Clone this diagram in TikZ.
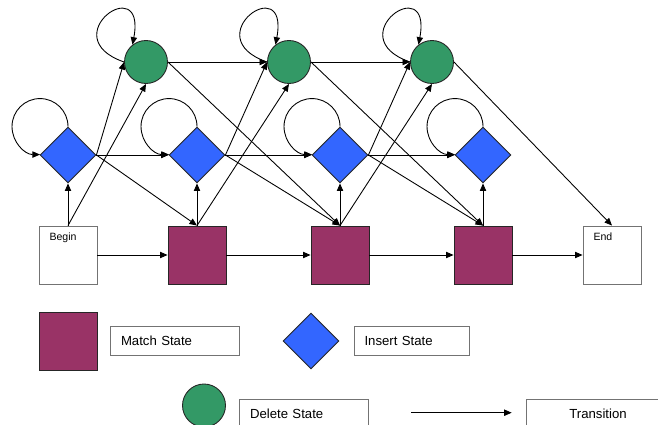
\documentclass[tikz,border=0pt]{standalone}
\usepackage{fontspec}
\setmainfont{Liberation Sans}
\usetikzlibrary{positioning, shapes.geometric, arrows.meta}
\definecolor{matchcol}{RGB}{153,51,102}
\definecolor{inscol}{RGB}{51,102,255}
\definecolor{delcol}{RGB}{51,153,102}
\tikzset{mstate/.style={draw=black!85, fill=matchcol, minimum size=1.16cm, inner sep=0}}
\tikzset{istate/.style={diamond, aspect=1, draw=black!85, fill=inscol, minimum size=1.12cm, inner sep=0}}
\tikzset{dstate/.style={circle, draw=black!85, fill=delcol, minimum size=0.86cm, inner sep=0}}
\tikzset{tbox/.style={draw=black!55, fill=white, minimum size=1.16cm, inner sep=0}}
\tikzset{tlabel/.style={label={[anchor=north west, inner sep=0pt, xshift=0.21cm, yshift=-0.14cm, font=\fontsize{6}{7}\selectfont]north west:#1}}}
\tikzset{legbox/.style={draw=black!55, minimum height=0.58cm, inner xsep=0.21cm, text width=#1, align=left, font=\fontsize{7.5}{9}\selectfont}}
\tikzset{arr/.style={draw, -{Triangle[length=4.3pt, width=3.6pt]}, line width=0.5pt}}

\begin{document}
\begin{tikzpicture}[x=0.02cm, y=0.02cm, line width=0.5pt]
	\useasboundingbox (0,0) rectangle (658,-425);
	\clip (0,0) rectangle (658,-425);
	\node[tbox, tlabel=Begin] (B) at (68,-255) {};
	\node[tbox, tlabel=End] (E) at (612,-255) {};
	\node[istate] (I0) at (68,-155) {};
	\foreach \i/\x in {1/197,2/340,3/483}{
		\node[mstate] (M\i) at (\x,-255) {};
		\node[istate] (I\i) at (\x,-155) {};
		\node[dstate] (D\i) at (\x-51,-62) {};
	}
	\draw[arr] (B) -- (M1);
	\draw[arr] (B) -- (I0);
	\draw[arr] (B.north) -- (D1.south);
	\foreach \i in {0,1,2}{
		\pgfmathtruncatemacro\j{\i+1}
		\draw[arr] (I\i.east) -- (I\j.west);
		\draw[arr] (I\i.east) -- (D\j.west);
		\draw[arr] (I\i.east) -- (M\j.north);
	}
	\foreach \i in {0,...,3}
		\draw[arr] (I\i.north) arc[start angle=0, end angle=270, radius=0.56cm];
	\foreach \i in {1,2,3}{
		\draw[arr] (M\i) -- (I\i);
		\draw[arr] (D\i.west) .. controls +(-72,25) and +(14,75) .. (D\i.128);
	}
	\foreach \i in {1,2}{
		\pgfmathtruncatemacro\j{\i+1}
		\draw[arr] (M\i) -- (M\j);
		\draw[arr] (M\i.north) -- (D\j.south);
		\draw[arr] (D\i) -- (D\j);
		\draw[arr] (D\i.east) -- (M\j.north);
	}
	\draw[arr] (M3) -- (E);
	\draw[arr] (D3.east) -- (E.north);

	\node[mstate] (lm) at (68,-341) {};
	\node[legbox=2.16cm] (lmt) at (175,-341.2) {Match State};
	\node[istate] (li) at (311,-341) {};
	\node[legbox=1.886cm] (lit) at (411.7,-341.2) {Insert State};
	\node[dstate] (ld) at (204,-405.5) {};
	\node[legbox=2.16cm] (ldt) at (304,-413.5) {Delete State};
	\coordinate (t0) at (411,-412.7);
	\coordinate (t1) at (511.7,-412.7);
	\draw[arr] (t0) -- (t1);
	\node[legbox=2.43cm, align=center] (ltt) at (598,-413.5) {Transition};
\end{tikzpicture}
\end{document}
